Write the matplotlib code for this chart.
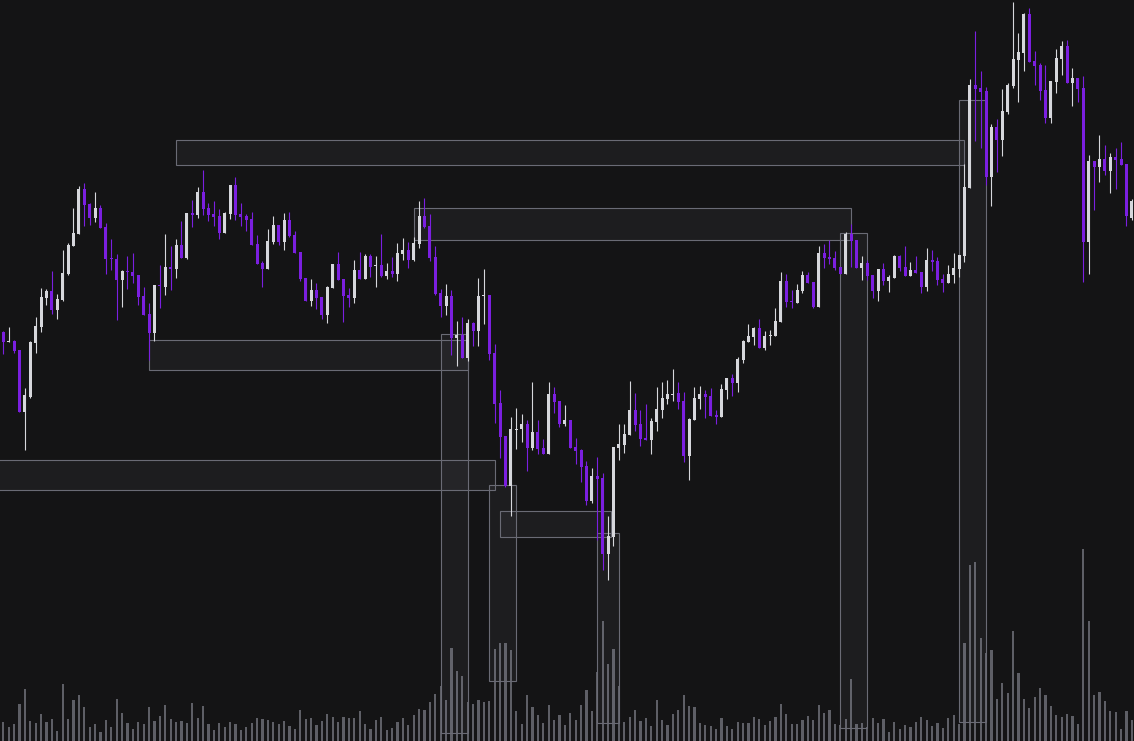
from matplotlib import pyplot as plt
from matplotlib.patches import Rectangle
import numpy as np

opens = [668, 658, 659, 650, 588, 603, 657, 673, 702, 709,
         690, 700, 726, 754, 766, 811, 796, 782, 792, 773,
         742, 741, 720, 729, 728, 725, 704, 686, 667, 715,
         713, 733, 731, 755, 742, 787, 785, 808, 792, 786,
         784, 767, 786, 815, 786, 784, 781, 756, 737, 731,
         758, 775, 758, 780, 765, 748, 722, 699, 710, 703,
         685, 712, 736, 721, 705, 702, 730, 721, 744, 734,
         735, 724, 729, 726, 746, 750, 740, 756, 784, 774,
         743, 707, 694, 704, 662, 665, 642, 677, 669, 704,
         705, 647, 597, 564, 514, 570, 571, 576, 552, 568,
         552, 546, 606, 599, 576, 580, 553, 550, 534, 499,
         524, 522, 446, 463, 552, 555, 565, 590, 576, 562,
         560, 578, 590, 601, 605, 607, 599, 544, 580, 601,
         606, 604, 585, 583, 610, 622, 617, 640, 658, 663,
         672, 652, 664, 664, 678, 719, 699, 697, 709, 725,
         718, 693, 747, 743, 742, 733, 726, 766, 760, 732,
         737, 725, 709, 731, 719, 722, 744, 733, 724, 730,
         728, 713, 740, 739, 721, 717, 725, 731, 744, 812,
         915, 912, 909, 823, 873, 860, 888, 914, 940, 947,
         986, 939, 935, 910, 882, 918, 941, 954, 917, 922,
         912, 758, 839, 833, 841, 829, 843, 841, 836, 782]
highs = [669, 673, 660, 650, 612, 659, 683, 712, 711, 729,
         706, 750, 757, 792, 814, 817, 797, 808, 795, 777,
         761, 746, 730, 744, 747, 725, 713, 697, 715, 735,
         766, 754, 761, 779, 787, 800, 813, 830, 797, 799,
         791, 788, 815, 823, 797, 786, 788, 765, 739, 771,
         784, 775, 787, 788, 769, 748, 722, 721, 717, 703,
         714, 736, 748, 721, 712, 740, 748, 746, 746, 744,
         766, 737, 743, 757, 762, 758, 763, 799, 802, 786,
         754, 711, 716, 710, 679, 683, 681, 678, 722, 731,
         705, 656, 610, 564, 583, 592, 586, 580, 618, 580,
         561, 618, 613, 599, 595, 580, 562, 551, 539, 532,
         543, 527, 484, 553, 576, 576, 619, 607, 590, 596,
         582, 613, 618, 620, 631, 618, 608, 582, 613, 614,
         610, 612, 590, 616, 622, 626, 643, 660, 676, 673,
         681, 669, 670, 692, 728, 726, 710, 716, 729, 728,
         718, 754, 756, 760, 749, 733, 768, 776, 760, 744,
         740, 725, 731, 737, 725, 745, 745, 754, 738, 744,
         728, 752, 750, 743, 726, 735, 747, 745, 836, 921,
         969, 929, 913, 876, 881, 911, 917, 998, 967, 987,
         992, 949, 937, 935, 919, 951, 959, 960, 932, 922,
         924, 845, 839, 865, 855, 847, 852, 858, 836, 801]
lows = [646, 658, 647, 588, 550, 602, 647, 668, 695, 686,
        681, 699, 725, 754, 766, 774, 775, 778, 772, 726,
        730, 680, 693, 711, 717, 695, 685, 640, 659, 692,
        705, 710, 722, 742, 741, 773, 782, 785, 779, 774,
        761, 767, 781, 780, 774, 769, 755, 736, 713, 731,
        756, 755, 750, 763, 747, 719, 699, 694, 691, 681,
        677, 712, 720, 678, 693, 697, 721, 721, 723, 713,
        723, 721, 723, 719, 740, 732, 739, 752, 772, 739,
        705, 683, 685, 645, 634, 642, 639, 654, 654, 676,
        640, 577, 542, 513, 484, 551, 558, 529, 550, 546,
        546, 546, 587, 573, 574, 552, 536, 518, 495, 497,
        460, 430, 420, 454, 540, 547, 565, 569, 554, 560,
        546, 569, 582, 596, 599, 591, 538, 520, 580, 591,
        582, 584, 576, 583, 601, 604, 608, 637, 658, 655,
        652, 650, 655, 664, 678, 693, 692, 697, 707, 717,
        692, 693, 732, 736, 730, 726, 726, 733, 732, 720,
        720, 702, 699, 715, 708, 722, 729, 724, 724, 727,
        707, 709, 729, 715, 708, 717, 717, 723, 738, 812,
        859, 852, 815, 794, 828, 844, 886, 912, 898, 929,
        938, 915, 900, 877, 877, 907, 925, 917, 894, 898,
        718, 726, 790, 818, 825, 807, 811, 835, 774, 780]
closes = [658, 659, 649, 588, 605, 658, 674, 703, 709, 690,
          701, 727, 755, 767, 811, 795, 782, 792, 772, 741,
          741, 720, 729, 728, 724, 703, 685, 667, 715, 714,
          733, 731, 755, 742, 787, 785, 808, 791, 785, 783,
          767, 787, 815, 785, 783, 780, 755, 736, 731, 759,
          775, 758, 780, 764, 747, 721, 699, 710, 702, 685,
          713, 736, 720, 704, 702, 730, 721, 744, 733, 735,
          724, 729, 726, 747, 750, 740, 757, 784, 773, 742,
          706, 694, 704, 662, 665, 642, 677, 669, 704, 705,
          646, 596, 563, 514, 571, 571, 576, 552, 568, 551,
          546, 606, 598, 576, 580, 552, 549, 533, 499, 524,
          521, 446, 464, 553, 556, 566, 590, 575, 561, 560,
          579, 591, 602, 606, 606, 598, 544, 581, 602, 606,
          603, 584, 583, 611, 622, 617, 641, 659, 664, 672,
          652, 664, 665, 679, 719, 698, 698, 710, 725, 717,
          693, 747, 742, 741, 732, 726, 766, 759, 732, 737,
          724, 709, 731, 719, 723, 744, 732, 724, 730, 727,
          713, 740, 738, 720, 717, 726, 732, 745, 813, 915,
          911, 908, 823, 873, 860, 889, 915, 941, 948, 986,
          938, 934, 909, 882, 919, 942, 954, 917, 922, 911,
          758, 839, 833, 841, 829, 843, 840, 835, 784, 799]
volumes = [19, 14, 17, 37, 52, 20, 18, 27, 19, 22,
           10, 57, 22, 41, 46, 34, 14, 17, 9, 21,
           14, 42, 28, 18, 12, 19, 17, 34, 20, 25,
           36, 22, 19, 20, 18, 38, 23, 35, 17, 11,
           18, 14, 19, 17, 11, 14, 18, 23, 22, 21,
           19, 17, 20, 15, 12, 31, 22, 23, 16, 20,
           27, 24, 19, 24, 23, 23, 30, 17, 12, 21,
           24, 11, 13, 19, 23, 16, 26, 32, 31, 39,
           47, 55, 41, 93, 70, 65, 39, 37, 41, 39,
           40, 92, 98, 98, 91, 30, 17, 46, 34, 26,
           18, 36, 21, 26, 16, 28, 21, 36, 51, 30,
           69, 120, 77, 92, 55, 19, 24, 31, 20, 23,
           15, 41, 21, 16, 27, 31, 46, 35, 34, 18,
           16, 15, 12, 23, 15, 12, 19, 18, 18, 24,
           22, 16, 20, 24, 37, 27, 17, 17, 21, 25,
           21, 36, 28, 31, 17, 16, 22, 62, 17, 18,
           14, 23, 18, 22, 9, 19, 12, 16, 14, 19,
           24, 21, 15, 18, 13, 23, 26, 17, 98, 176,
           179, 103, 88, 91, 42, 58, 48, 110, 68, 42,
           33, 44, 53, 46, 35, 26, 24, 27, 25, 17,
           192, 120, 46, 49, 40, 30, 29, 12, 30, 21]

# price zones: candle index span and price span
zone_start = [32, 76, 27, -1, 81, 90, 92, 110, 155, 177]
zone_end = [178, 157, 86, 91, 86, 95, 112.5, 114, 160, 182]
zone_low = [835, 760, 630, 510, 267, 319, 463, 277, 272, 278]
zone_high = [860, 792, 660, 540, 666, 515, 489, 467, 767, 900]

bg = "#141415"
up_color = "#d6d7dc"
down_color = "#7b1fe0"

o = np.array(opens, float)
h = np.array(highs, float)
l = np.array(lows, float)
c = np.array(closes, float)
x = np.arange(len(o))
up = c >= o
colors = np.where(up, up_color, down_color)

fig = plt.figure(figsize=(11.34, 7.41), dpi=100, facecolor=bg)
axv = fig.add_axes([0, 0, 1, 1])
ax = fig.add_axes([0, 0, 1, 1])
axv.set_facecolor(bg)
ax.patch.set_visible(False)

# volume underneath
axv.bar(x, volumes, width=0.38, color="#5e5f66", linewidth=0)
axv.set_ylim(0, 741)

for s, e, lo, hi in zip(zone_start, zone_end, zone_low, zone_high):
    ax.add_patch(Rectangle((s, lo), e - s, hi - lo, facecolor="#a0a4b4", alpha=0.065,
                           edgecolor="none", zorder=1))
    ax.add_patch(Rectangle((s, lo), e - s, hi - lo, facecolor="none",
                           edgecolor="#6a6b75", linewidth=0.8, zorder=2))

ax.vlines(x, l, h, colors=colors, linewidth=0.8, zorder=3)
body = np.maximum(np.abs(c - o), 1.5)
ax.bar(x, body, bottom=np.minimum(o, c), width=0.56, color=colors, linewidth=0, zorder=4)

for a in (ax, axv):
    a.set_xlim(-0.611, 209.39)
    a.set_xticks([])
    a.set_yticks([])
    for sp in a.spines.values():
        sp.set_visible(False)
ax.set_ylim(259, 1000)

fig.savefig("out.png", dpi=100, facecolor=bg)
